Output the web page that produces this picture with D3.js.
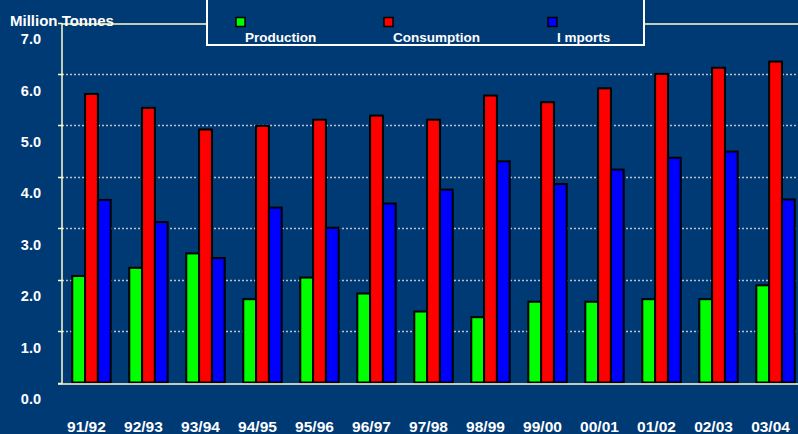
<!DOCTYPE html>
<html>
<head>
<meta charset="utf-8">
<script src="https://cdn.jsdelivr.net/npm/d3@7"></script>
<style>
  body { margin: 0; background: #003a75; }
  svg { display: block; }
  text { font-family: Arial, "Liberation Sans", sans-serif; font-weight: bold; fill: #fff; }
</style>
</head>
<body>
<div id="chart"></div>
<script>
// seasons along the bottom
var seasons = ["91/92", "92/93", "93/94", "94/95", "95/96", "96/97", "97/98",
               "98/99", "99/00", "00/01", "01/02", "02/03", "03/04"];

// million tonnes
var production  = [2.07, 2.23, 2.51, 1.62, 2.04, 1.73, 1.38, 1.27, 1.57, 1.57, 1.62, 1.62, 1.89];
var consumption = [5.61, 5.34, 4.92, 4.99, 5.11, 5.19, 5.11, 5.58, 5.45, 5.72, 6.00, 6.12, 6.24];
var imports     = [3.55, 3.12, 2.42, 3.40, 3.01, 3.48, 3.75, 4.30, 3.86, 4.14, 4.37, 4.49, 3.56];

var seriesNames = ["Production", "Consumption", "Imports"];
var yTicks = [0, 1, 2, 3, 4, 5, 6, 7];

var width = 798, height = 434;
var colors = ["#00ff00", "#ff0000", "#0000ff"];
var cream = "#ffffcc";

var svg = d3.select("#chart")
  .append("svg")
  .attr("width", width)
  .attr("height", height);

var left = 62;

var yScale = d3.scaleLinear().domain([0, 7]).range([382.5, 22.5]);

var xScale = d3.scaleBand()
  .domain(seasons)
  .range([left, 805])
  .paddingInner(0.326)
  .paddingOuter(0.18);

var xInner = d3.scaleBand()
  .domain(seriesNames)
  .range([0, xScale.bandwidth()]);

// dotted gridlines
svg.append("g")
  .selectAll("line")
  .data(yTicks.slice(1, 7))
  .enter()
  .append("line")
  .attr("x1", left)
  .attr("x2", width)
  .attr("y1", function(d) { return Math.round(yScale(d)) + 0.5; })
  .attr("y2", function(d) { return Math.round(yScale(d)) + 0.5; })
  .attr("stroke", "#b8c0c8")
  .attr("stroke-width", 1.5)
  .attr("stroke-dasharray", "2,2");

// bars
var rows = seasons.map(function(s, i) {
  return { season: s, values: [production[i], consumption[i], imports[i]] };
});

var groups = svg.append("g")
  .selectAll("g")
  .data(rows)
  .enter()
  .append("g")
  .attr("transform", function(d) { return "translate(" + xScale(d.season) + ",0)"; });

groups.selectAll("rect")
  .data(function(d) { return d.values; })
  .enter()
  .append("rect")
  .attr("x", function(d, i) { return xInner(seriesNames[i]); })
  .attr("y", function(d) { return yScale(d); })
  .attr("width", xInner.bandwidth())
  .attr("height", function(d) { return yScale(0) - yScale(d); })
  .attr("fill", function(d, i) { return colors[i]; })
  .attr("stroke", "#000")
  .attr("stroke-width", 2);

// axis lines
svg.append("line")
  .attr("x1", left).attr("x2", left)
  .attr("y1", yScale(7) + 1).attr("y2", yScale(0) + 1)
  .attr("stroke", cream).attr("stroke-width", 1.5);

svg.append("line")
  .attr("x1", 58).attr("x2", width)
  .attr("y1", yScale(0) + 1.5).attr("y2", yScale(0) + 1.5)
  .attr("stroke", cream).attr("stroke-width", 1.5);

svg.append("g")
  .selectAll("line")
  .data(yTicks)
  .enter()
  .append("line")
  .attr("x1", 58).attr("x2", left)
  .attr("y1", function(d) { return Math.round(yScale(d)) + 0.5; })
  .attr("y2", function(d) { return Math.round(yScale(d)) + 0.5; })
  .attr("stroke", cream).attr("stroke-width", 1.5);

// y labels sit a little below their gridlines
svg.append("g")
  .selectAll("text")
  .data(yTicks)
  .enter()
  .append("text")
  .attr("x", 41)
  .attr("y", function(d) { return yScale(d) + 16.5; })
  .attr("dy", "0.35em")
  .attr("text-anchor", "end")
  .attr("font-size", 14.5)
  .text(function(d) { return d.toFixed(1); });

// x labels
svg.append("g")
  .selectAll("text")
  .data(seasons)
  .enter()
  .append("text")
  .attr("x", function(d) { return xScale(d) + xScale.bandwidth() / 2 - 5; })
  .attr("y", 432)
  .attr("text-anchor", "middle")
  .attr("font-size", 15.5)
  .text(function(d) { return d; });

// unit title
svg.append("text")
  .attr("x", 10)
  .attr("y", 26)
  .attr("font-size", 15)
  .text("Million Tonnes");

// top frame line, drawn over the title
svg.append("line")
  .attr("x1", left).attr("x2", width)
  .attr("y1", 24).attr("y2", 24)
  .attr("stroke", cream).attr("stroke-width", 1.5);

// legend box
var legend = svg.append("g");
legend.append("rect")
  .attr("x", 207).attr("y", -5)
  .attr("width", 437).attr("height", 50)
  .attr("fill", "#003a75")
  .attr("stroke", "#fff")
  .attr("stroke-width", 2);

var legX = [236, 384, 548];
seriesNames.forEach(function(name, i) {
  legend.append("rect")
    .attr("x", legX[i]).attr("y", 17.5)
    .attr("width", 9).attr("height", 9)
    .attr("fill", colors[i])
    .attr("stroke", "#000")
    .attr("stroke-width", 1.5);
  legend.append("text")
    .attr("x", legX[i] + 9)
    .attr("y", 42)
    .attr("font-size", 13.5)
    .text(name === "Imports" ? "I mports" : name);
});
</script>
</body>
</html>
